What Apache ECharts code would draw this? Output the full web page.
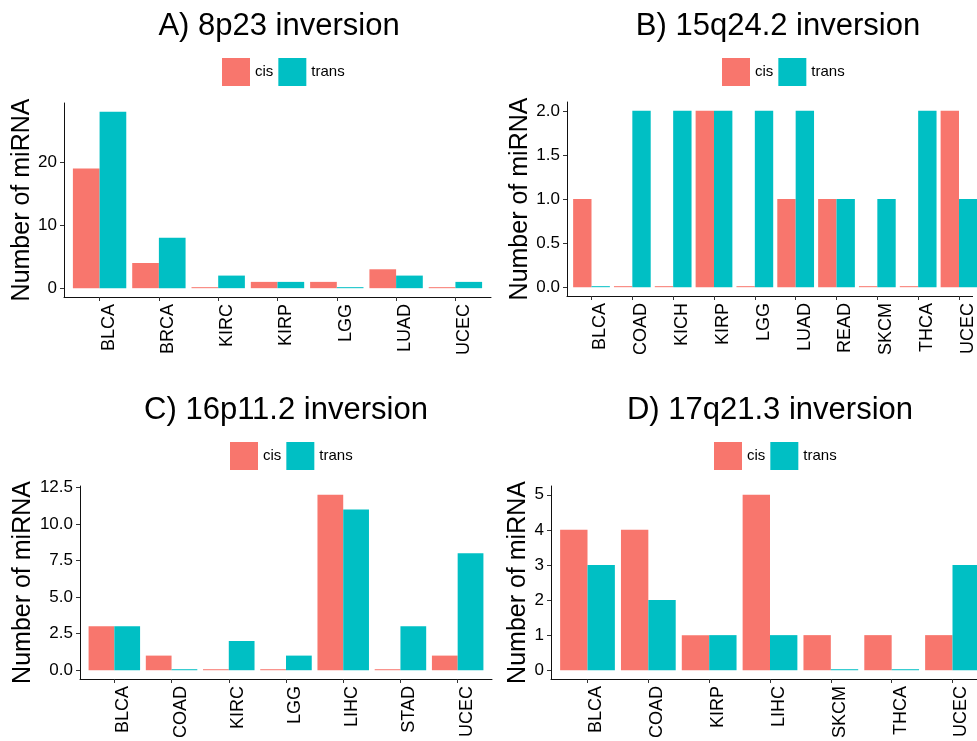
<!DOCTYPE html>
<html><head><meta charset="utf-8">
<script src="https://cdn.jsdelivr.net/npm/echarts@6/dist/echarts.min.js"></script>
<style>html,body{margin:0;padding:0;background:#fff}#c{width:977px;height:741px}</style>
</head><body><div id="c"></div>
<script>
// Panel A: 8p23 inversion
const titleA = 'A) 8p23 inversion';
const catsA = ['BLCA','BRCA','KIRC','KIRP','LGG','LUAD','UCEC'];
const cisA = [19,4,0,1,1,3,0];
const transA = [28,8,2,1,0,2,1];
const ticksA = [0,10,20];
// Panel B: 15q24.2 inversion
const titleB = 'B) 15q24.2 inversion';
const catsB = ['BLCA','COAD','KICH','KIRP','LGG','LUAD','READ','SKCM','THCA','UCEC'];
const cisB = [1,0,0,2,0,1,1,0,0,2];
const transB = [0,2,2,2,2,2,1,1,2,1];
const ticksB = [0,0.5,1,1.5,2];
// Panel C: 16p11.2 inversion
const titleC = 'C) 16p11.2 inversion';
const catsC = ['BLCA','COAD','KIRC','LGG','LIHC','STAD','UCEC'];
const cisC = [3,1,0,0,12,0,1];
const transC = [3,0,2,1,11,3,8];
const ticksC = [0,2.5,5,7.5,10,12.5];
// Panel D: 17q21.3 inversion
const titleD = 'D) 17q21.3 inversion';
const catsD = ['BLCA','COAD','KIRP','LIHC','SKCM','THCA','UCEC'];
const cisD = [4,4,1,5,1,1,1];
const transD = [3,2,1,1,0,0,3];
const ticksD = [0,1,2,3,4,5];

const seriesNames = ['cis','trans'];
const colors = ['#F8766D','#00BFC4'];
const yTitle = 'Number of miRNA';
const W = 977;

const panels = [
  {title:titleA, cats:catsA, cis:cisA, trans:transA, ticks:ticksA, dec:0,
   left:64, top:103, width:427, height:194, ymin:-1.4, ymax:29.4, tx:274, ty:6, lx:222, ly:58, gap:26},
  {title:titleB, cats:catsB, cis:cisB, trans:transB, ticks:ticksB, dec:1,
   left:567, top:102, width:421, height:194, ymin:-0.1, ymax:2.1, tx:773, ty:6, lx:722, ly:58, gap:34},
  {title:titleC, cats:catsC, cis:cisC, trans:transC, ticks:ticksC, dec:1,
   left:80, top:486, width:412, height:193, ymin:-0.6, ymax:12.6, tx:281, ty:390, lx:230, ly:442, gap:43},
  {title:titleD, cats:catsD, cis:cisD, trans:transD, ticks:ticksD, dec:0,
   left:551, top:486, width:438, height:193, ymin:-0.25, ymax:5.25, tx:765, ty:390, lx:714, ly:442, gap:18}
];

const option = {
  animation:false,
  backgroundColor:'#fff',
  title:[], legend:[], grid:[], xAxis:[], yAxis:[], series:[]
};
const FONT = 'Liberation Sans, Arial, Helvetica, sans-serif';
panels.forEach((p,i)=>{
  const idx = p.cats.map((c,j)=>j);
  // the panel may run past the right edge of the picture: keep the visible part only
  const visW = Math.min(p.width, W - p.left);
  const xmin = -0.6, xfull = p.cats.length - 1 + 0.6;
  const xmax = xmin + (xfull - xmin) * visW / p.width;
  option.title.push({text:p.title, left:p.tx, top:p.ty, textAlign:'center',
    textStyle:{fontFamily:FONT, fontSize:31, fontWeight:'normal', color:'#000'}});
  option.legend.push({data:seriesNames, left:p.lx, top:p.ly, padding:0, itemWidth:28, itemHeight:28, itemGap:5,
    icon:'rect', textStyle:{fontFamily:FONT, fontSize:15, color:'#000'}, selectedMode:false});
  option.grid.push({left:p.left, top:p.top, width:visW, height:p.height, containLabel:false});
  option.xAxis.push({type:'value', gridIndex:i, min:xmin, max:xmax,
    axisLine:{show:true, onZero:false, lineStyle:{color:'#111', width:1}},
    axisTick:{show:true, length:4, customValues:idx, lineStyle:{color:'#333'}},
    axisLabel:{rotate:90, fontFamily:FONT, fontSize:18, color:'#000', margin:7, customValues:idx,
      verticalAlign:'top', formatter:v=>p.cats[Math.round(v)]},
    splitLine:{show:false}});
  option.yAxis.push({type:'value', gridIndex:i, min:p.ymin, max:p.ymax,
    name:yTitle, nameLocation:'middle', nameGap:p.gap,
    nameTextStyle:{fontFamily:FONT, fontSize:25, color:'#000'},
    axisLine:{show:true, onZero:false, lineStyle:{color:'#111', width:1}},
    axisTick:{show:true, length:4, customValues:p.ticks, lineStyle:{color:'#333'}},
    axisLabel:{fontFamily:FONT, fontSize:17, color:'#000', margin:7, customValues:p.ticks,
      formatter:v=>v.toFixed(p.dec)},
    splitLine:{show:false}});
  [p.cis, p.trans].forEach((d,k)=>{
    option.series.push({type:'bar', name:seriesNames[k], xAxisIndex:i, yAxisIndex:i,
      data:d.map((v,j)=>[j,v]),
      barGap:'0%', barCategoryGap:'10%', barMinHeight:1, clip:true,
      itemStyle:{color:colors[k]}});
  });
});
const chart = echarts.init(document.getElementById('c'), null, {renderer:'canvas'});
chart.setOption(option);
</script></body></html>
